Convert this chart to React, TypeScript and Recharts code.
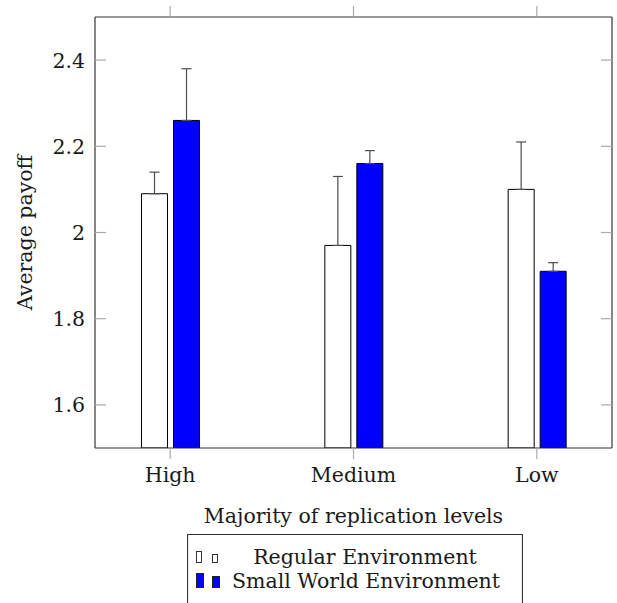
import { ComposedChart, Bar, ErrorBar, XAxis, YAxis, Legend } from 'recharts';

const categories = ['High', 'Medium', 'Low'];
const regularValues = [2.09, 1.97, 2.1];
const regularErrors = [0.05, 0.16, 0.11];
const smallWorldValues = [2.26, 2.16, 1.91];
const smallWorldErrors = [0.12, 0.03, 0.02];
const yTicks = [1.6, 1.8, 2, 2.2, 2.4];
const seriesNames = ['Regular Environment', 'Small World Environment'];

const FONT = "'DejaVu Serif', serif";
const FONT_SIZE = 20.5;
const TICK_COLOR = '#aaaaaa';
const AXIS_COLOR = '#333333';
const BLUE = '#0000ff';

// categories sit on 0..n-1, with pgfplots-like enlarged limits on both sides
const X_PAD = 0.41;
const xDomain = [-X_PAD, categories.length - 1 + X_PAD];
const xTicks = categories.map((_, i) => i);

const data = categories.map((name, i) => ({
  pos: i,
  name,
  regular: regularValues[i],
  regularErr: [0, regularErrors[i]],
  small: smallWorldValues[i],
  smallErr: [0, smallWorldErrors[i]],
}));

const formatY = (v: number) => (v === 2 ? '2' : v.toFixed(1));

const textProps = { fontFamily: FONT, fontSize: FONT_SIZE, fill: '#1a1a1a' };

function LeftTick(props: any) {
  const { x, y, payload } = props;
  const axisX = x + 10;
  return (
    <g>
      <line x1={axisX} x2={axisX + 11} y1={y} y2={y} stroke={TICK_COLOR} strokeWidth={1.2} />
      <text x={x} y={y + 7.5} textAnchor="end" {...textProps}>
        {formatY(payload.value)}
      </text>
    </g>
  );
}

// right axis only carries the inward tick marks
function RightTick(props: any) {
  const { x, y } = props;
  return <line x1={x - 11} x2={x} y1={y} y2={y} stroke={TICK_COLOR} strokeWidth={1.2} />;
}

function BottomTick(props: any) {
  const { x, y, payload } = props;
  return (
    <text x={x} y={y + 23} textAnchor="middle" {...textProps}>
      {categories[payload.value]}
    </text>
  );
}

const EmptyTick = () => <g />;

function XTitle(props: any) {
  const { viewBox } = props;
  return (
    <text x={viewBox.x + viewBox.width / 2} y={viewBox.y + 75} textAnchor="middle" {...textProps}>
      Majority of replication levels
    </text>
  );
}

function YTitle(props: any) {
  const { viewBox } = props;
  const cx = viewBox.x + 25;
  const cy = viewBox.y + viewBox.height / 2;
  return (
    <text
      x={cx}
      y={cy}
      transform={`rotate(-90, ${cx}, ${cy})`}
      textAnchor="middle"
      dominantBaseline="central"
      {...textProps}
    >
      Average payoff
    </text>
  );
}

// ybar-style legend: two small bars per entry, text centred in the box
function LegendBox() {
  const w = 336;
  const h = 69;
  return (
    <svg width={w} height={h} style={{ display: 'block' }}>
      <path d={`M0.5 ${h} V0.5 H${w - 0.5} V${h}`} fill="none" stroke={AXIS_COLOR} strokeWidth={1.2} />
      <rect x={9.5} y={17.5} width={5} height={11} fill="#fff" stroke="#333" />
      <rect x={25.5} y={20.5} width={5} height={8} fill="#fff" stroke="#333" />
      <text x={178} y={30} textAnchor="middle" {...textProps}>
        {seriesNames[0]}
      </text>
      <rect x={9.5} y={39.5} width={7} height={14} fill={BLUE} stroke="#222" />
      <rect x={25.5} y={42.5} width={7} height={11} fill={BLUE} stroke="#222" />
      <text x={179} y={53.5} textAnchor="middle" {...textProps}>
        {seriesNames[1]}
      </text>
    </svg>
  );
}

export default function App() {
  return (
    <div style={{ position: 'fixed', left: 0, top: 0, background: '#fff' }}>
      <ComposedChart
        width={617}
        height={603}
        data={data}
        margin={{ top: 16, right: 4, bottom: 0, left: 0 }}
        barGap={6}
      >
        <XAxis
          xAxisId="bottom"
          dataKey="pos"
          type="number"
          domain={xDomain}
          ticks={xTicks}
          allowDataOverflow
          height={155}
          tickSize={11}
          tickMargin={0}
          tickLine={{ stroke: TICK_COLOR, strokeWidth: 1.2 }}
          axisLine={{ stroke: AXIS_COLOR, strokeWidth: 1.2 }}
          tick={<BottomTick />}
          label={XTitle}
        />
        <XAxis
          xAxisId="top"
          orientation="top"
          dataKey="pos"
          type="number"
          domain={xDomain}
          ticks={xTicks}
          allowDataOverflow
          height={1}
          tickSize={11}
          tickLine={{ stroke: TICK_COLOR, strokeWidth: 1.2 }}
          axisLine={{ stroke: AXIS_COLOR, strokeWidth: 1.2 }}
          tick={<EmptyTick />}
        />
        <YAxis
          yAxisId="left"
          type="number"
          domain={[1.5, 2.5]}
          ticks={yTicks}
          allowDataOverflow
          width={95}
          tickSize={0}
          tickMargin={10}
          tickLine={false}
          axisLine={{ stroke: AXIS_COLOR, strokeWidth: 1.2 }}
          tick={<LeftTick />}
          label={YTitle}
        />
        <YAxis
          yAxisId="right"
          orientation="right"
          type="number"
          domain={[1.5, 2.5]}
          ticks={yTicks}
          allowDataOverflow
          width={1}
          tickSize={0}
          tickMargin={0}
          tickLine={false}
          axisLine={{ stroke: AXIS_COLOR, strokeWidth: 1.2 }}
          tick={<RightTick />}
        />
        <Bar
          xAxisId="bottom"
          yAxisId="left"
          dataKey="regular"
          name={seriesNames[0]}
          barSize={26}
          fill="#ffffff"
          stroke="#000"
          strokeWidth={1}
          isAnimationActive={false}
        >
          <ErrorBar
            dataKey="regularErr"
            direction="y"
            width={5}
            stroke="#4d4d4d"
            strokeWidth={1.2}
            isAnimationActive={false}
          />
        </Bar>
        <Bar
          xAxisId="bottom"
          yAxisId="left"
          dataKey="small"
          name={seriesNames[1]}
          barSize={26}
          fill={BLUE}
          stroke="#000"
          strokeWidth={1}
          isAnimationActive={false}
        >
          <ErrorBar
            dataKey="smallErr"
            direction="y"
            width={5}
            stroke="#4d4d4d"
            strokeWidth={1.2}
            isAnimationActive={false}
          />
        </Bar>
        <Legend
          layout="vertical"
          verticalAlign="middle"
          align="center"
          content={<LegendBox />}
          wrapperStyle={{ left: 187, top: 534, width: 336, height: 69 }}
        />
      </ComposedChart>
    </div>
  );
}
